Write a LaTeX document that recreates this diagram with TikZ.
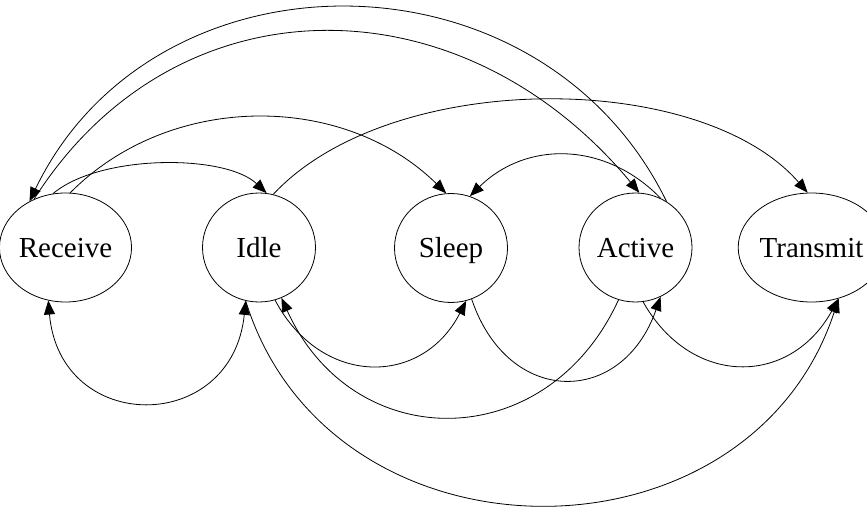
\documentclass[tikz,border=0pt]{standalone}
\usepackage{fontspec}
\setmainfont{Liberation Serif}
\usetikzlibrary{shapes.geometric,arrows.meta}
\begin{document}
\begin{tikzpicture}[x=1pt,y=-1pt,
  >={Triangle[length=14pt,width=11pt]},
  state/.style={draw, ellipse, minimum width=113pt, minimum height=109pt, inner sep=0pt, line width=0.8pt, text height=25pt, text depth=6pt, font=\fontsize{29}{34}\selectfont},
  edge/.style={draw, line width=0.8pt, ->},
  bothedge/.style={draw, line width=0.8pt, <->}]
\useasboundingbox (0,0) rectangle (867,508);
\node[state] (rec) at (65.5,247.5) {Receive};
\node[state] (idle) at (259,247.5) {Idle};
\node[state] (slp) at (451,248) {Sleep};
\node[state] (act) at (635.5,247.5) {Active};
\node[state] (tx) at (811.5,247.5) {Transmit};
% top arcs
\draw[edge] (rec.103) .. controls (100,154) and (225,154) .. (idle.82);
\draw[edge] (rec.85) .. controls (170,92) and (343,92) .. (slp.95);
\draw[edge] (rec.123) .. controls (175,-23) and (460,-23) .. (act.86);
\draw[edge] (act.56) .. controls (540,-57) and (154,-57) .. (rec.128);
\draw[edge] (act.63) .. controls (605,141) and (526,141) .. (slp.70);
\draw[edge] (idle.75) .. controls (390,69) and (700,69) .. (tx.94);
% bottom arcs
\draw[bothedge] (rec.252) .. controls (60,435) and (232,435) .. (idle.256);
\draw[edge] (idle.256) .. controls (330,573) and (749,573) .. (tx.298);
\draw[edge] (idle.287) .. controls (321,387) and (422,387) .. (slp.286);
\draw[edge] (slp.292) .. controls (508,407) and (622,407) .. (act.297);
\draw[edge] (act.252) .. controls (547,456) and (353,456) .. (idle.294);
\draw[edge] (act.278) .. controls (691,387) and (790,387) .. (tx.298);
\end{tikzpicture}
\end{document}
